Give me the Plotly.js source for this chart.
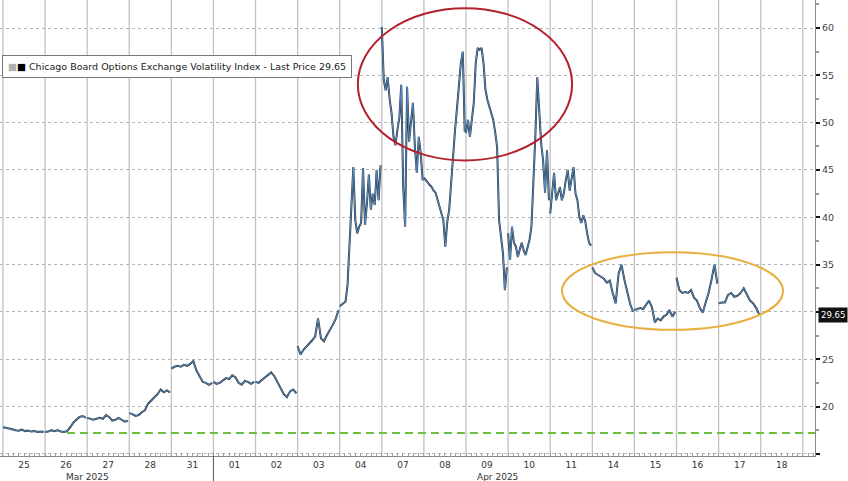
<!DOCTYPE html>
<html>
<head>
<meta charset="utf-8">
<script src="https://cdn.plot.ly/plotly-3.0.1.min.js"></script>
<style>html,body{margin:0;padding:0;background:#fff;}#chart{width:848px;height:481px;}</style>
</head>
<body>
<div id="chart"></div>
<script>
// Trading-day labels (x axis)
const dayLabels = ['25','26','27','28','31','01','02','03','04','07','08','09','10','11','14','15','16','17','18'];
const monthLabels = ['Mar 2025', 'Apr 2025'];
const yTickValues = [15, 20, 25, 30, 35, 40, 45, 50, 55, 60];
const yTickText = ['', '20', '25', '', '35', '40', '45', '50', '55', '60'];
const lastPrice = 29.65;
const referenceLevel = 17.2;
const seriesName = 'Chicago Board Options Exchange Volatility Index - Last Price 29.65';

// Intraday VIX readings, one array per session
const mar25 = [17.8, 17.75, 17.7, 17.6, 17.5, 17.45, 17.55, 17.4, 17.45, 17.35, 17.4, 17.3, 17.35, 17.3];
const mar26 = [17.3, 17.35, 17.5, 17.4, 17.5, 17.35, 17.3, 17.4, 17.8, 18.3, 18.6, 18.9, 19.0, 18.8];
const mar27 = [18.8, 18.7, 18.6, 18.7, 18.8, 18.7, 19.1, 18.9, 18.5, 18.6, 18.8, 18.6, 18.4, 18.5];
const mar28 = [19.3, 19.2, 19.0, 19.1, 19.4, 19.6, 20.3, 20.6, 20.9, 21.3, 21.8, 21.5, 21.7, 21.5];
const mar31 = [24.0, 24.2, 24.3, 24.2, 24.4, 24.3, 24.5, 24.8, 23.8, 23.2, 22.6, 22.5, 22.3, 22.5];
const apr01 = [22.6, 22.4, 22.5, 22.8, 23.0, 22.9, 23.3, 23.1, 22.5, 22.3, 22.7, 22.6, 22.4, 22.6];
const apr02 = [22.6, 22.5, 22.8, 23.1, 23.4, 23.6, 23.2, 22.6, 22.0, 21.3, 21.0, 21.6, 21.8, 21.4];
const apr03 = [26.4, 25.5, 26.0, 26.3, 26.6, 27.0, 27.4, 29.3, 27.2, 26.9, 27.5, 28.0, 28.6, 29.2, 30.2];
const apr04 = [30.6, 30.8, 31.0, 31.1, 32.8, 36.5, 41.0, 45.3, 39.7, 38.3, 39.0, 39.4, 45.2, 39.2, 41.5, 44.5, 40.8, 42.5, 41.3, 45.0, 41.8, 45.5];
const apr07 = [60.1, 54.5, 53.4, 54.8, 52.5, 51.0, 48.5, 47.6, 49.2, 50.5, 54.0, 43.2, 39.0, 53.8, 48.0, 50.3, 52.1, 47.4, 44.7, 48.5, 46.8, 43.9];
const apr08 = [44.2, 43.9, 43.6, 43.4, 43.2, 42.8, 42.6, 41.8, 41.1, 40.3, 39.7, 36.9, 39.5, 40.8, 43.9, 46.8, 49.2, 51.5, 53.8, 56.3, 57.5, 49.0];
const apr09 = [48.9, 50.3, 48.5, 50.5, 52.1, 56.3, 57.9, 57.7, 57.9, 56.3, 53.5, 52.4, 51.6, 51.0, 50.3, 49.0, 47.4, 39.7, 38.0, 36.2, 32.3, 34.7];
const apr10 = [38.3, 35.5, 39.0, 37.3, 36.9, 35.8, 36.6, 37.3, 36.5, 36.0, 36.8, 37.6, 39.0, 43.2, 48.5, 54.8, 51.6, 47.8, 46.0, 42.6, 47.1, 41.8];
const apr11 = [40.4, 42.6, 44.7, 41.8, 42.5, 43.2, 41.8, 42.5, 43.9, 45.0, 42.8, 44.0, 45.3, 42.5, 41.8, 40.0, 39.4, 40.2, 39.6, 38.3, 37.3, 37.0];
const apr14 = [34.7, 34.1, 33.9, 33.7, 33.5, 33.1, 33.3, 32.0, 30.9, 34.0, 35.0, 33.4, 32.0, 30.8, 30.0];
const apr15 = [30.2, 30.3, 30.4, 30.3, 30.7, 31.2, 30.5, 28.9, 29.3, 29.1, 29.5, 29.7, 30.2, 29.5, 30.0];
const apr16 = [33.6, 32.3, 32.0, 32.1, 32.0, 32.3, 31.5, 31.2, 30.4, 29.9, 31.0, 32.0, 33.4, 35.0, 33.0];
const apr17 = [30.9, 31.0, 31.0, 31.8, 32.0, 31.6, 31.7, 32.0, 32.5, 31.8, 31.2, 30.9, 30.4, 29.65];

const sessions = [mar25, mar26, mar27, mar28, mar31, apr01, apr02, apr03, apr04, apr07,
                  apr08, apr09, apr10, apr11, apr14, apr15, apr16, apr17];

// Build x (session index + intraday fraction) and y with breaks between sessions
const xs = [], ys = [];
const SPAN = 0.97;
sessions.forEach((vals, k) => {
  const n = vals.length;
  vals.forEach((v, i) => { xs.push(k + i * SPAN / (n - 1)); ys.push(v); });
  xs.push(null); ys.push(null);
});

const X0 = -0.07, X1 = 19.29;
const Y0 = 14.77, Y1 = 62.96;

const traces = [
  { x: xs, y: ys, type: 'scatter', mode: 'lines', connectgaps: false,
    line: { color: '#2b3642', width: 2 }, hoverinfo: 'skip', showlegend: false },
  { x: xs, y: ys, type: 'scatter', mode: 'lines', connectgaps: false,
    line: { color: '#5a93cc', width: 0.9 }, hoverinfo: 'skip', showlegend: false },
  // empty trace so the dense-tick overlay axis is drawn
  { x: [null], y: [null], xaxis: 'x2', yaxis: 'y', type: 'scatter', mode: 'lines',
    hoverinfo: 'skip', showlegend: false }
];

const centers = dayLabels.map((_, i) => i + 0.5);
const boundaries = dayLabels.map((_, i) => i).concat([dayLabels.length]);
const fam = 'DejaVu Sans, Verdana, sans-serif';
const tickFont = { family: fam, size: 9, color: '#333' };

const gridShapes = boundaries.map(b => ({
  type: 'line', layer: 'below', xref: 'x', yref: 'paper', x0: b, x1: b, y0: 0, y1: 1,
  line: { color: '#c2c2c2', width: 1.3 }
}));

const layout = {
  width: 848, height: 481,
  margin: { l: 0, r: 33, t: 0, b: 25, pad: 0 },
  paper_bgcolor: '#ffffff', plot_bgcolor: '#ffffff',
  font: { family: fam, size: 9, color: '#333' },
  showlegend: false,
  xaxis: {
    range: [X0, X1], tickmode: 'array', tickvals: centers, ticktext: dayLabels, ticks: '',
    ticklabelstandoff: 0, tickfont: tickFont,
    showgrid: false, zeroline: false,
    showline: true, linecolor: '#8a8a8a', linewidth: 1,
    fixedrange: true
  },
  xaxis2: {
    overlaying: 'x', anchor: 'y', side: 'bottom', range: [X0, X1],
    tickmode: 'linear', tick0: 0, dtick: 0.125, ticks: 'inside', ticklen: 3,
    tickcolor: '#a0a0a0', tickwidth: 1, showticklabels: false,
    showgrid: false, zeroline: false, showline: false, fixedrange: true
  },
  yaxis: {
    side: 'right', range: [Y0, Y1], tickmode: 'array', tickvals: yTickValues, ticktext: yTickText,
    ticks: 'outside', ticklen: 4, tickwidth: 2, tickcolor: '#111',
    showgrid: true, gridcolor: '#b5b5b5', griddash: 'dot', gridwidth: 1,
    zeroline: false, showline: true, linecolor: '#8a8a8a', linewidth: 1,
    tickfont: { family: fam, size: 9.5, color: '#444' },
    minor: { tick0: 0, dtick: 2.5, ticks: 'outside', ticklen: 3, tickcolor: '#999', showgrid: false },
    fixedrange: true
  },
  shapes: gridShapes.concat([
    // reference level
    { type: 'line', xref: 'x', yref: 'y', x0: 1.52, x1: X1, y0: referenceLevel, y1: referenceLevel,
      line: { color: '#6cc040', width: 2, dash: '8px,5px' } },
    // month separator below axis
    { type: 'line', xref: 'x', yref: 'paper', x0: 5, x1: 5, y0: 0, y1: -0.06,
      line: { color: '#555', width: 1 } },
    // red ellipse
    { type: 'circle', xref: 'x', yref: 'y', x0: 8.43, x1: 13.52, y0: 46.0, y1: 62.1,
      line: { color: '#b3222c', width: 2 } },
    // orange ellipse
    { type: 'circle', xref: 'x', yref: 'y', x0: 13.28, x1: 18.53, y0: 28.1, y1: 36.3,
      line: { color: '#e8b040', width: 2 } }
  ]),
  annotations: [
    { xref: 'paper', yref: 'paper', x: 0.003, y: 1 - 55/456, xanchor: 'left', yanchor: 'top',
      text: '<span style="color:#b0b0b0">■</span><span style="color:#000">■</span> ' + seriesName,
      showarrow: false, align: 'left', bgcolor: '#ffffff', bordercolor: '#777', borderwidth: 1, borderpad: 5,
      font: { family: fam, size: 9.5, color: '#222' } },
    { xref: 'paper', yref: 'y', x: 1, y: lastPrice, xanchor: 'left', yanchor: 'middle', xshift: 3,
      text: lastPrice.toFixed(2), showarrow: false, bgcolor: '#111', borderpad: 2,
      font: { family: fam, size: 8.5, color: '#fff' } },
    { xref: 'x', yref: 'paper', x: 2.0, y: 0, yshift: -27, xanchor: 'center', yanchor: 'bottom',
      text: monthLabels[0], showarrow: false, borderpad: 0, font: tickFont },
    { xref: 'x', yref: 'paper', x: 11.75, y: 0, yshift: -27, xanchor: 'center', yanchor: 'bottom',
      text: monthLabels[1], showarrow: false, borderpad: 0, font: tickFont }
  ]
};

Plotly.newPlot('chart', traces, layout, { displayModeBar: false, staticPlot: true });
</script>
</body>
</html>
